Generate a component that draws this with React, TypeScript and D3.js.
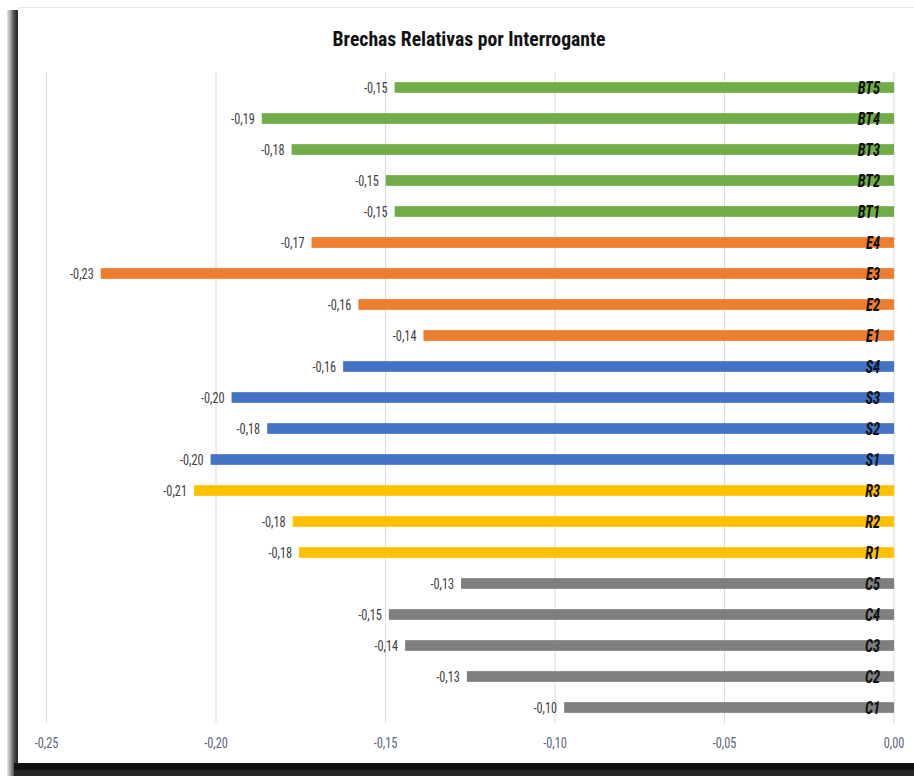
import React from "react";
import * as d3 from "d3";

const categories = ["BT5","BT4","BT3","BT2","BT1","E4","E3","E2","E1","S4","S3","S2","S1","R3","R2","R1","C5","C4","C3","C2","C1"];
const values = [-0.1473,-0.1865,-0.1777,-0.1499,-0.1473,-0.1718,-0.2340,-0.1580,-0.1388,-0.1625,-0.1954,-0.1849,-0.2016,-0.2065,-0.1774,-0.1755,-0.1277,-0.1490,-0.1442,-0.1260,-0.0973];
const groups = ["BT","BT","BT","BT","BT","E","E","E","E","S","S","S","S","R","R","R","C","C","C","C","C"];
const groupColors: Record<string,string> = { BT: "#70AD47", E: "#ED7D31", S: "#4472C4", R: "#FFC000", C: "#7F7F7F" };
const xTicks = [-0.25,-0.2,-0.15,-0.1,-0.05,0];
const title = "Brechas Relativas por Interrogante";

const FONT = "'Liberation Sans Narrow', 'Roboto Condensed', 'Open Sans', sans-serif";

export default function App() {
  const W = 914, H = 776;
  const x = d3.scaleLinear().domain([-0.25, 0]).range([46.5, 894]);
  const y = d3.scaleBand<string>().domain(categories).range([72, 723]).paddingInner(0.655).paddingOuter(0.3275);
  const fmt = (v: number) => d3.format(".2f")(v).replace(".", ",").replace("−", "-");
  return (
    <div style={{ position: "absolute", left: 0, top: 0 }}>
      <svg width={W} height={H} style={{ display: "block" }}>
        <defs>
          <linearGradient id="lsh" x1="0" x2="1" y1="0" y2="0">
            <stop offset="0" stopColor="#e6e6e6" />
            <stop offset="0.35" stopColor="#9a9a9a" />
            <stop offset="0.6" stopColor="#555" />
            <stop offset="1" stopColor="#222" />
          </linearGradient>
        </defs>
        <rect x={0} y={0} width={W} height={H} fill="#ffffff" />
        <rect x={7} y={10} width={11} height={H - 10} fill="url(#lsh)" />
        <rect x={14} y={763} width={W - 14} height={7} fill="#111" />
        <rect x={14} y={770} width={W - 14} height={6} fill="#262626" />
        <rect x={18} y={7} width={W - 18} height={756} fill="#ffffff" />
        <line x1={18} x2={W} y1={7.5} y2={7.5} stroke="#e8e8e8" />
        <text transform="translate(469,46) scale(0.96,1)" textAnchor="middle" fontFamily={FONT} fontWeight="bold" fontSize={20.5} fill="#111">{title}</text>
        {xTicks.map(t => (
          <g key={t}>
            <line x1={x(t)} x2={x(t)} y1={72} y2={723} stroke="#d9d9d9" strokeWidth={1} />
            <text transform={`translate(${x(t)},748) scale(0.85,1)`} textAnchor="middle" fontFamily={FONT} fontSize={14.5} fill="#5a6378">{fmt(t)}</text>
          </g>
        ))}
        {categories.map((c, i) => {
          const v = values[i];
          const yy = y(c)!;
          const bh = y.bandwidth();
          return (
            <g key={c}>
              <rect x={x(v)} y={yy} width={x(0) - x(v)} height={bh} fill={groupColors[groups[i]]} />
              <text transform={`translate(${x(v) - 7},${yy + bh / 2}) scale(0.82,1)`} dy="0.36em" textAnchor="end" fontFamily={FONT} fontSize={15} fill="#404040">{fmt(v)}</text>
              <text transform={`translate(880,${yy + bh / 2}) scale(0.8,1)`} dy="0.38em" textAnchor="end" fontFamily={FONT} fontSize={18} fontWeight="bold" fontStyle="italic" fill="#111">{c}</text>
            </g>
          );
        })}
      </svg>
    </div>
  );
}
